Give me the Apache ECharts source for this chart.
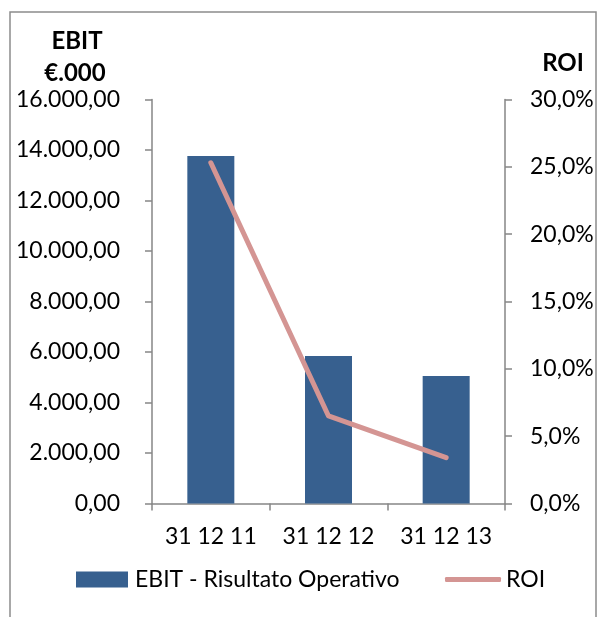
<!DOCTYPE html>
<html>
<head>
<meta charset="utf-8">
<script src="https://cdn.jsdelivr.net/npm/echarts@6/dist/echarts.min.js"></script>
<style>
html,body{margin:0;padding:0;background:#fff;}
#c{width:599px;height:617px;}
</style>
</head>
<body>
<div id="c"></div>
<script>
const categories = ['31 12 11', '31 12 12', '31 12 13'];
const ebitValues = [13760, 5840, 5050];
const roiValues = [25.3, 6.5, 3.4];
const ebitName = 'EBIT - Risultato Operativo';
const roiName = 'ROI';

const FONT = 'Lato';
function fmtEbit(v) {
  const parts = v.toFixed(2).split('.');
  const intPart = parts[0].replace(/\B(?=(\d{3})+(?!\d))/g, '.');
  return intPart + ',' + parts[1];
}
function fmtPct(v) {
  return v.toFixed(1).replace('.', ',') + '%';
}

const chart = echarts.init(document.getElementById('c'), null, {renderer: 'canvas'});
const axisColor = '#868686';
chart.setOption({
  animation: false,
  backgroundColor: '#ffffff',
  textStyle: {fontFamily: FONT},
  grid: {left: 152, right: 94, top: 99.5, bottom: 113.5, containLabel: false},
  xAxis: {
    type: 'category',
    data: categories,
    axisLine: {lineStyle: {color: axisColor, width: 1.5}},
    axisTick: {show: true, length: 7, lineStyle: {color: axisColor, width: 1.5}},
    axisLabel: {color: '#000', fontFamily: FONT, fontSize: 23, margin: 22, interval: 0, hideOverlap: false}
  },
  yAxis: [
    {
      type: 'value', min: 0, max: 16000, interval: 2000,
      axisLine: {show: true, lineStyle: {color: axisColor, width: 1.5}},
      axisTick: {show: true, length: 7, lineStyle: {color: axisColor, width: 1.5}},
      splitLine: {show: false},
      axisLabel: {color: '#000', fontFamily: FONT, fontSize: 23, margin: 32, formatter: fmtEbit}
    },
    {
      type: 'value', min: 0, max: 30, interval: 5, position: 'right',
      axisLine: {show: true, lineStyle: {color: axisColor, width: 1.5}},
      axisTick: {show: true, length: 7, lineStyle: {color: axisColor, width: 1.5}},
      splitLine: {show: false},
      axisLabel: {color: '#000', fontFamily: FONT, fontSize: 23, margin: 25, formatter: fmtPct}
    }
  ],
  legend: [
    {
      data: [{name: ebitName, icon: 'rect'}],
      left: 76, top: 568, padding: 0, itemWidth: 52, itemHeight: 16, itemGap: 10,
      textStyle: {color: '#000', fontFamily: FONT, fontSize: 23, padding: [0,0,0,2]},
      selectedMode: false
    },
    {
      data: [{name: roiName, icon: 'roundRect'}],
      left: 445, top: 568, padding: 0, itemWidth: 56, itemHeight: 5,
      textStyle: {color: '#000', fontFamily: FONT, fontSize: 23, padding: [0,0,0,0]},
      selectedMode: false
    }
  ],
  series: [
    {
      name: ebitName, type: 'bar', yAxisIndex: 0, data: ebitValues,
      barWidth: 47,
      itemStyle: {color: '#37608f'}
    },
    {
      name: roiName, type: 'line', yAxisIndex: 1, data: roiValues,
      showSymbol: false, symbol: 'none',
      lineStyle: {color: '#d49593', width: 5, cap: 'round', join: 'round'},
      itemStyle: {color: '#d49593'}
    }
  ],
  graphic: [
    {type: 'rect', shape: {x: 10, y: 12, width: 586, height: 640}, style: {fill: 'none', stroke: '#8c8c8c', lineWidth: 1.5}, silent: true},
    {type: 'text', x: 77, y: 41, style: {text: 'EBIT', font: 'bold 24px ' + FONT, fill: '#000', align: 'center', verticalAlign: 'middle'}},
    {type: 'text', x: 75, y: 73, style: {text: '€.000', font: 'bold 24px ' + FONT, fill: '#000', align: 'center', verticalAlign: 'middle'}},
    {type: 'text', x: 563, y: 63, style: {text: 'ROI', font: 'bold 24px ' + FONT, fill: '#000', align: 'center', verticalAlign: 'middle'}}
  ]
});
</script>
</body>
</html>
